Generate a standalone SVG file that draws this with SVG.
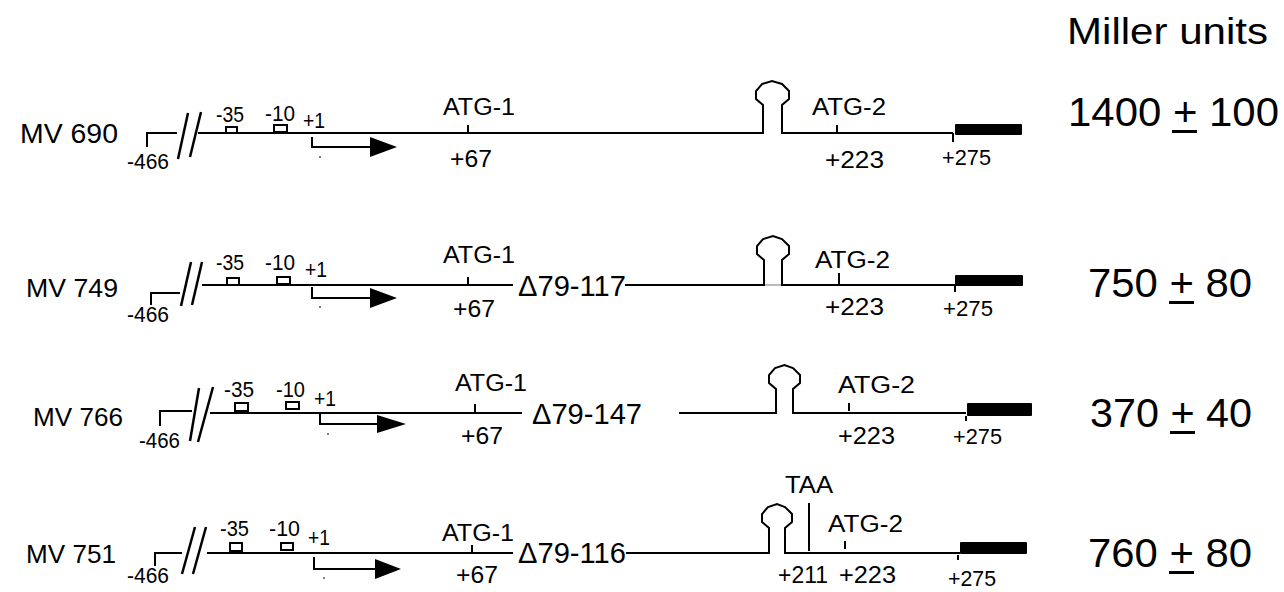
<svg xmlns="http://www.w3.org/2000/svg" width="1284" height="592" viewBox="0 0 1284 592">
<style>
.ln{stroke:#000;stroke-width:2;fill:none;stroke-linejoin:miter}
.sl{stroke:#000;stroke-width:2.5;fill:none}
.bx{stroke:#000;stroke-width:2;fill:#fff}
.bar{fill:#000}
.t{font-family:"Liberation Sans",Arial,Helvetica,sans-serif;fill:#000}
.s{font-size:22px}
.m{font-size:23px}
.d{font-size:29px}
.v{font-size:40px}
.mv{font-size:26px}
</style>
<rect width="1284" height="592" fill="#fff"/>
<text class="t" x="1067" y="44" font-size="36" textLength="201" lengthAdjust="spacingAndGlyphs">Miller units</text>

<g id="mv690">
<text class="t" x="20" y="143" font-size="27" textLength="98" lengthAdjust="spacingAndGlyphs">MV 690</text>
<path class="ln" d="M147,147 V133 H177"/>
<line class="sl" x1="178" y1="159" x2="188" y2="113"/>
<line class="sl" x1="190" y1="157" x2="201" y2="112"/>
<path class="ln" d="M198,133 H763 V105 L756,99 L756,91 L762,84 L772,81 L782,84 L789,91 L789,99 L782,105 V133 H953"/>
<rect class="bx" x="226" y="127" width="11" height="6"/>
<rect class="bx" x="274" y="125" width="13" height="7"/>
<path class="ln" d="M468,125 V133 M837,125 V133 M953,133 V142"/>
<rect class="bar" x="955" y="124" width="67" height="11" rx="1"/>
<text class="t s" x="127" y="169" textLength="42" lengthAdjust="spacingAndGlyphs">-466</text>
<text class="t s" x="216" y="122" textLength="28" lengthAdjust="spacingAndGlyphs">-35</text>
<text class="t s" x="265" y="121" textLength="30" lengthAdjust="spacingAndGlyphs">-10</text>
<text class="t s" x="303" y="128" textLength="22" lengthAdjust="spacingAndGlyphs">+1</text>
<text class="t m" x="443" y="115" textLength="72" lengthAdjust="spacingAndGlyphs">ATG-1</text>
<text class="t m" x="450" y="167" textLength="42" lengthAdjust="spacingAndGlyphs">+67</text>
<text class="t m" x="812" y="115" textLength="74" lengthAdjust="spacingAndGlyphs">ATG-2</text>
<text class="t m" x="825" y="168" textLength="59" lengthAdjust="spacingAndGlyphs">+223</text>
<text class="t s" x="942" y="165" textLength="49" lengthAdjust="spacingAndGlyphs">+275</text>
<text class="t v" x="1068" y="126" textLength="211" lengthAdjust="spacingAndGlyphs">1400 + 100</text>
<rect x="1172" y="130" width="25" height="3"/>
</g>

<g id="mv749">
<text class="t mv" x="26" y="297" textLength="92" lengthAdjust="spacingAndGlyphs">MV 749</text>
<path class="ln" d="M151,305 V293 H180"/>
<line class="sl" x1="181" y1="306" x2="191" y2="262"/>
<line class="sl" x1="192" y1="305" x2="202" y2="262"/>
<path class="ln" d="M202,285 H513"/>
<path class="ln" d="M625,285 H764 V260 L757,254 L757,246 L763,239 L773,236 L782,239 L789,246 L789,254 L782,260 V285 H955"/>
<line x1="765" y1="285" x2="781" y2="285" stroke="#bbb" stroke-width="2"/>
<rect class="bx" x="227" y="278" width="12" height="7"/>
<rect class="bx" x="277" y="277" width="13" height="7"/>
<path class="ln" d="M468,277 V285 M839,273 V285 M955,285 V292"/>
<rect class="bar" x="955" y="275" width="68" height="11" rx="1"/>
<text class="t s" x="127" y="322" textLength="42" lengthAdjust="spacingAndGlyphs">-466</text>
<text class="t s" x="216" y="270" textLength="28" lengthAdjust="spacingAndGlyphs">-35</text>
<text class="t s" x="265" y="270" textLength="30" lengthAdjust="spacingAndGlyphs">-10</text>
<text class="t s" x="305" y="277" textLength="22" lengthAdjust="spacingAndGlyphs">+1</text>
<text class="t m" x="443" y="263" textLength="72" lengthAdjust="spacingAndGlyphs">ATG-1</text>
<text class="t m" x="453" y="317" textLength="42" lengthAdjust="spacingAndGlyphs">+67</text>
<text class="t d" x="518" y="296" textLength="108" lengthAdjust="spacingAndGlyphs">Δ79-117</text>
<text class="t m" x="815" y="268" textLength="75" lengthAdjust="spacingAndGlyphs">ATG-2</text>
<text class="t m" x="825" y="315" textLength="59" lengthAdjust="spacingAndGlyphs">+223</text>
<text class="t s" x="943" y="316" textLength="50" lengthAdjust="spacingAndGlyphs">+275</text>
<text class="t v" x="1088" y="297" textLength="164" lengthAdjust="spacingAndGlyphs">750 + 80</text>
<rect x="1169" y="301" width="25" height="3"/>
</g>

<g id="mv766">
<text class="t mv" x="33" y="426" textLength="90" lengthAdjust="spacingAndGlyphs">MV 766</text>
<path class="ln" d="M160,426 V411 H192"/>
<line class="sl" x1="190" y1="441" x2="199" y2="388"/>
<line class="sl" x1="198" y1="442" x2="213" y2="387"/>
<path class="ln" d="M210,413 H522"/>
<path class="ln" d="M679,413 H776 V389 L769,383 L769,375 L775,368 L784.5,365 L793,368 L800,375 L800,383 L793,389 V413 H966"/>
<rect class="bx" x="235" y="403" width="13" height="8"/>
<rect class="bx" x="286" y="402" width="13" height="7"/>
<path class="ln" d="M475,404 V413 M849,403 V411 M966,416 V421"/>
<rect class="bar" x="967" y="403" width="65" height="13" rx="1"/>
<text class="t s" x="139" y="448" textLength="41" lengthAdjust="spacingAndGlyphs">-466</text>
<text class="t s" x="224" y="397" textLength="30" lengthAdjust="spacingAndGlyphs">-35</text>
<text class="t s" x="276" y="397" textLength="29" lengthAdjust="spacingAndGlyphs">-10</text>
<text class="t s" x="314" y="406" textLength="22" lengthAdjust="spacingAndGlyphs">+1</text>
<text class="t m" x="455" y="391" textLength="72" lengthAdjust="spacingAndGlyphs">ATG-1</text>
<text class="t m" x="461" y="444" textLength="42" lengthAdjust="spacingAndGlyphs">+67</text>
<text class="t d" x="532" y="424" textLength="110" lengthAdjust="spacingAndGlyphs">Δ79-147</text>
<text class="t m" x="838" y="393" textLength="77" lengthAdjust="spacingAndGlyphs">ATG-2</text>
<text class="t m" x="838" y="444" textLength="57" lengthAdjust="spacingAndGlyphs">+223</text>
<text class="t s" x="953" y="444" textLength="49" lengthAdjust="spacingAndGlyphs">+275</text>
<text class="t v" x="1090" y="427" textLength="162" lengthAdjust="spacingAndGlyphs">370 + 40</text>
<rect x="1170" y="431" width="25" height="3"/>
</g>

<g id="mv751">
<text class="t mv" x="26" y="563" textLength="90" lengthAdjust="spacingAndGlyphs">MV 751</text>
<path class="ln" d="M155,566 V553 H182"/>
<line class="sl" x1="182" y1="574" x2="195" y2="527"/>
<line class="sl" x1="193" y1="574" x2="206" y2="527"/>
<path class="ln" d="M207,553 H513"/>
<path class="ln" d="M626,553 H769 V528 L762,522 L762,514 L768,507 L777,504 L785,507 L792,514 L792,522 L785,528 V553 H960"/>
<rect class="bx" x="230" y="543" width="12" height="8"/>
<rect class="bx" x="281" y="543" width="12" height="7"/>
<path class="ln" d="M472,545 V553 M809,503 V551 M845,541 V549 M958,555 V560"/>
<rect class="bar" x="960" y="542" width="67" height="12" rx="1"/>
<text class="t s" x="127" y="583" textLength="42" lengthAdjust="spacingAndGlyphs">-466</text>
<text class="t s" x="220" y="536" textLength="29" lengthAdjust="spacingAndGlyphs">-35</text>
<text class="t s" x="269" y="536" textLength="31" lengthAdjust="spacingAndGlyphs">-10</text>
<text class="t s" x="308" y="545" textLength="22" lengthAdjust="spacingAndGlyphs">+1</text>
<text class="t m" x="442" y="541" textLength="72" lengthAdjust="spacingAndGlyphs">ATG-1</text>
<text class="t m" x="456" y="583" textLength="42" lengthAdjust="spacingAndGlyphs">+67</text>
<text class="t d" x="518" y="563" textLength="108" lengthAdjust="spacingAndGlyphs">Δ79-116</text>
<text class="t m" x="785" y="493" textLength="48" lengthAdjust="spacingAndGlyphs">TAA</text>
<text class="t m" x="828" y="532" textLength="75" lengthAdjust="spacingAndGlyphs">ATG-2</text>
<text class="t m" x="778" y="583" textLength="50" lengthAdjust="spacingAndGlyphs">+211</text>
<text class="t m" x="839" y="583" textLength="57" lengthAdjust="spacingAndGlyphs">+223</text>
<text class="t s" x="948" y="586" textLength="48" lengthAdjust="spacingAndGlyphs">+275</text>
<text class="t v" x="1088" y="567" textLength="164" lengthAdjust="spacingAndGlyphs">760 + 80</text>
<rect x="1169" y="571" width="25" height="3"/>
</g>

<g id="connectors">
<path class="ln" d="M312,137 V147 H372"/>
<polygon points="370,137 397,147 370,157"/>
<rect x="319.5" y="156" width="1" height="2"/>
<path class="ln" d="M312,287 V298 H372"/>
<polygon points="370,288 397,298 370,308"/>
<rect x="319.5" y="306" width="1" height="2"/>
<path class="ln" d="M320,414 V424 H379"/>
<polygon points="377,415 406,424 377,433"/>
<rect x="327.5" y="433" width="1" height="2"/>
<path class="ln" d="M314,557 V569 H377"/>
<polygon points="375,559 401,569 375,579"/>
<rect x="323.5" y="577" width="1" height="2"/>
</g>
</svg>
